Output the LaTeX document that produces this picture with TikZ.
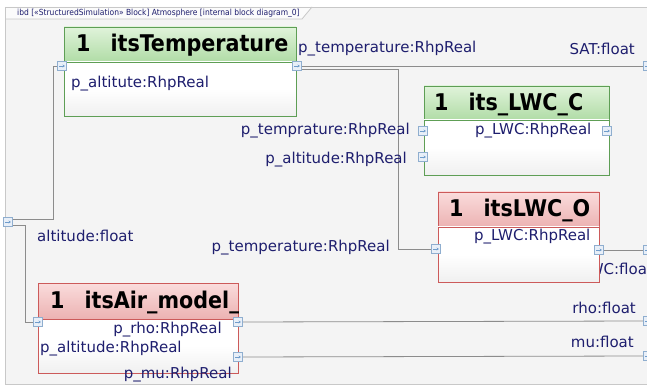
\documentclass[tikz,border=0pt]{standalone}
\usepackage{fontspec}
\setmainfont{DejaVu Sans Condensed}
\newfontfamily\lblfont{DejaVu Sans}
\usetikzlibrary{arrows.meta}
\definecolor{txt}{HTML}{1E1E6E}
\definecolor{wire}{HTML}{8C8C8C}
\definecolor{bg}{HTML}{F4F4F4}
\definecolor{frameC}{HTML}{C8C8C8}
\definecolor{gBorder}{HTML}{5E9E55}
\definecolor{gTop}{HTML}{E0F3DA}
\definecolor{gBot}{HTML}{B0DCA6}
\definecolor{rBorder}{HTML}{CC5A5A}
\definecolor{rTop}{HTML}{FADCDC}
\definecolor{rBot}{HTML}{ECB2B2}
\definecolor{portB}{HTML}{8FAECF}
\definecolor{portF}{HTML}{E8EFF8}
\definecolor{portA}{HTML}{6F9CCB}
\tikzset{
  wireline/.style={draw=wire, line width=0.8pt},
  hdrbox/.style={anchor=north west, inner sep=0, outer sep=0, line width=0.9pt},
  ghead/.style={hdrbox, draw=gBorder, top color=gTop, bottom color=gBot},
  rhead/.style={hdrbox, draw=rBorder, top color=rTop, bottom color=rBot},
  gbody/.style={hdrbox, draw=gBorder, top color=white, bottom color=white!88!gray, middle color=white},
  rbody/.style={hdrbox, draw=rBorder, top color=white, bottom color=white!88!gray, middle color=white},
  port/.style={draw=portB, fill=portF, rectangle, minimum size=9pt, inner sep=0, outer sep=0, line width=0.6pt,
    path picture={\draw[portA, line width=0.8pt, -{Stealth[length=2.2pt,width=3pt]}] ([xshift=-2.8pt]path picture bounding box.center) -- ([xshift=2.8pt]path picture bounding box.center);}},
  lbl/.style={text=txt, inner sep=0, font=\lblfont\fontsize{15}{18}\selectfont},
  title/.style={text=black, inner sep=0, anchor=west, font=\fontsize{23}{27}\selectfont\bfseries},
}
\begin{document}
\begin{tikzpicture}[x=1pt,y=-1pt]
\useasboundingbox (0,0) rectangle (647,387);
\clip (0,0) rectangle (647,387);
% background and frame
\fill[white] (0,0) rectangle (647,387);
\fill[bg] (5,7) rectangle (660,384);
\fill[white!60!bg] (5,7) -- (312,7) -- (302,19) -- (5,19) -- cycle;
\draw[frameC, line width=0.8pt] (660,7) -- (5,7) -- (5,384) -- (660,384);
\draw[frameC, line width=0.8pt] (5,19) -- (302,19) -- (312,7);
\node[text=txt, inner sep=0, anchor=west, font=\fontsize{8.4}{10}\selectfont] (tab) at (17,13)
  {ibd [«StructuredSimulation» Block] Atmosphere [internal block diagram\_0]};

% ports (positions)
\node[port] (tempL) at (62,66) {};
\node[port] (tempR) at (297,66) {};
\node[port] (fP) at (8,222) {};
\node[port] (satP) at (648,66) {};
\node[port] (cL1) at (423,131) {};
\node[port] (cL2) at (423,157) {};
\node[port] (cR) at (607,131) {};
\node[port] (oL) at (436,249) {};
\node[port] (oR) at (599,250) {};
\node[port] (lwcP) at (648,250) {};
\node[port] (airL) at (38,322) {};
\node[port] (airR1) at (238,322) {};
\node[port] (airR2) at (238,357) {};
\node[port] (rhoP) at (648,321) {};
\node[port] (muP) at (648,356) {};

% wires
\coordinate (b1) at (398,69);
\coordinate (b1end) at (398,249);
\coordinate (bA) at (53,219);
\coordinate (bB) at (25,225);
\draw[wireline] (tempR.east) -- (satP.west);
\draw[wireline] ([yshift=-3pt]tempR.east) -- (b1) -- (b1end) -- (oL.west);
\draw[wireline] (tempL.west) -| (bA) -- (bA -| fP.east);
\draw[wireline] (bB -| fP.east) -- (bB) |- (airL.west);
\draw[wireline] (airR1.east) -- (rhoP.west);
\draw[wireline] (airR2.east) -- (muP.west);
\draw[wireline] (oR.east) -- (lwcP.west);

% label partly hidden behind LWC_O (as in the reference)
\node[lbl, anchor=east] (lwcLbl) at (653,269) {LWC:float};

% blocks
\node[ghead, minimum width=232, minimum height=35] (tempH) at (64,27) {};
\node[gbody, minimum width=232, minimum height=54] (tempB) at (64,62) {};
\node[ghead, minimum width=185, minimum height=34] (cH) at (424,86) {};
\node[gbody, minimum width=185, minimum height=55] (cB) at (424,120) {};
\node[rhead, minimum width=161, minimum height=35] (oH) at (438,192) {};
\node[rbody, minimum width=161, minimum height=55] (oB) at (438,227) {};
\node[rhead, minimum width=200, minimum height=36] (aH) at (38,283) {};
\node[rbody, minimum width=200, minimum height=54] (aB) at (38,319) {};

% redraw ports on top
\foreach \x/\y in {62/66, 297/66, 8/222, 648/66, 423/131, 423/157, 607/131, 436/249, 599/250, 648/250, 38/322, 238/322, 238/357, 648/321, 648/356}
  \node[port] at (\x,\y) {};

% titles
\node[title] (tempT) at (76,45) {1\hspace{20pt}itsTemperature};
\node[title] (cT) at (434,104) {1\hspace{20pt}its\_LWC\_C};
\node[title] (oT) at (449,210) {1\hspace{20pt}itsLWC\_O};
\begin{scope}
\clip (38,283) rectangle (238,319);
\node[title] (aT) at (50,302) {1\hspace{20pt}itsAir\_model\_};
\end{scope}

% labels
\node[lbl, anchor=west] (l1) at (298,49) {p\_temperature:RhpReal};
\node[lbl, anchor=east] (l2) at (635,49) {SAT:float};
\node[lbl, anchor=west] (l3) at (71,84) {p\_altitute:RhpReal};
\node[lbl, anchor=east] (l4) at (410,131) {p\_temprature:RhpReal};
\node[lbl, anchor=east] (l5) at (407,160) {p\_altitude:RhpReal};
\node[lbl, anchor=west] (l6) at (475,131) {p\_LWC:RhpReal};
\node[lbl, anchor=east] (l7) at (390,248) {p\_temperature:RhpReal};
\node[lbl, anchor=west] (l8) at (474,237) {p\_LWC:RhpReal};
\node[lbl, anchor=west] (l9) at (37,236) {altitude:float};
\node[lbl, anchor=east] (l10) at (636,308) {rho:float};
\node[lbl, anchor=east] (l11) at (634,342) {mu:float};
\node[lbl, anchor=east] (l12) at (222,330) {p\_rho:RhpReal};
\node[lbl, anchor=west] (l13) at (40,349) {p\_altitude:RhpReal};
\node[lbl, anchor=east] (l14) at (232,375) {p\_mu:RhpReal};
\end{tikzpicture}
\end{document}
